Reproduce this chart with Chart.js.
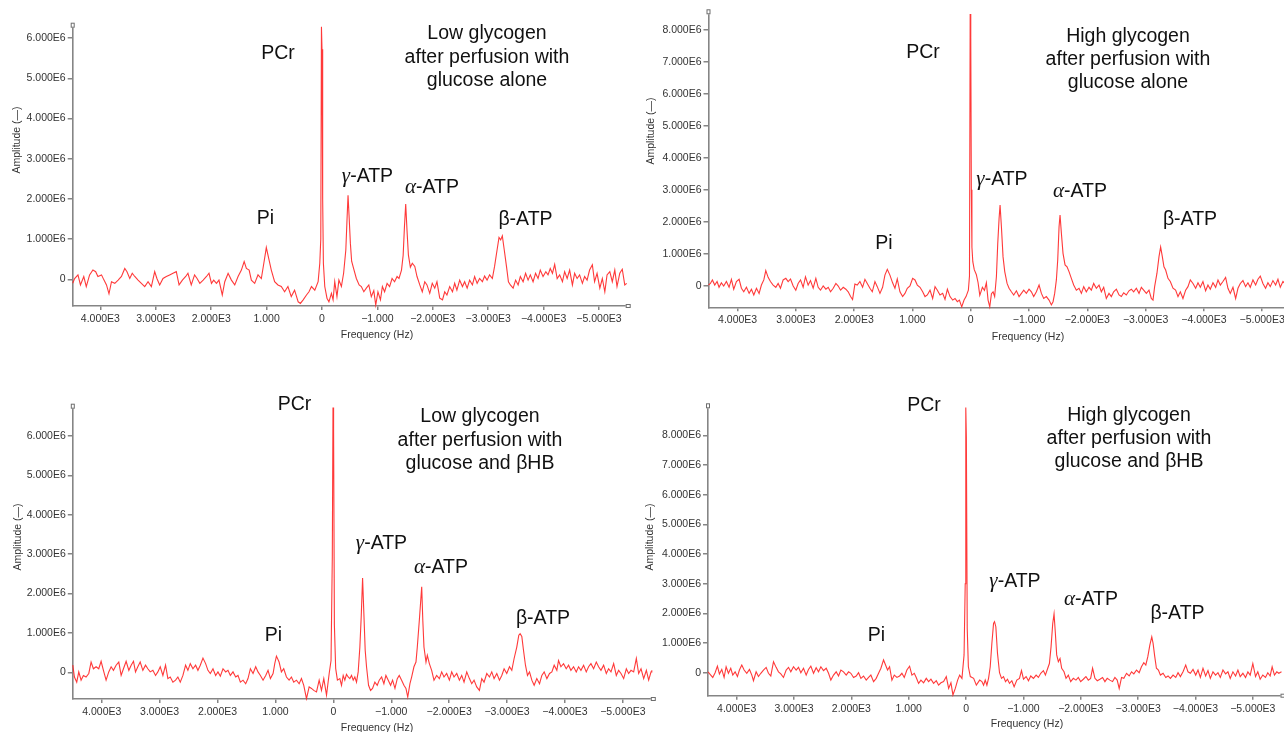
<!DOCTYPE html>
<html><head><meta charset="utf-8">
<script src="https://cdn.jsdelivr.net/npm/chart.js@4.4.0/dist/chart.umd.min.js"></script>
<style>
html,body{margin:0;padding:0;background:#fff;width:1284px;height:732px;overflow:hidden;}
#wrap{position:relative;width:1284px;height:732px;overflow:hidden;}
canvas{position:absolute;}
.lbl{position:absolute;font-family:"Liberation Sans",Arial,sans-serif;color:#111;font-size:19.5px;line-height:23.3px;white-space:nowrap;transform:translate(-50%,-50%);text-align:center;}
.blk{position:absolute;font-family:"Liberation Sans",Arial,sans-serif;color:#111;font-size:19.5px;line-height:23.3px;white-space:nowrap;transform:translate(-50%,0);text-align:center;}
.gk{font-family:"Liberation Serif","Times New Roman",serif;font-style:italic;font-size:21px;}
.ax{position:absolute;font-family:"Liberation Sans",Arial,sans-serif;font-size:10.5px;color:#333;white-space:nowrap;transform:translate(-50%,-50%);}
.axv{position:absolute;font-family:"Liberation Sans",Arial,sans-serif;font-size:10.5px;color:#333;white-space:nowrap;transform:translate(-50%,-50%) rotate(-90deg);}
</style></head><body><div id="wrap">
<canvas id="c1" width="640" height="345" style="left:0;top:0"></canvas>
<canvas id="c2" width="660" height="345" style="left:640px;top:0"></canvas>
<canvas id="c3" width="660" height="352" style="left:0;top:380px"></canvas>
<canvas id="c4" width="644" height="352" style="left:640px;top:380px"></canvas>

<div class="lbl" style="left:278px;top:53px">PCr</div>
<div class="lbl" style="left:367.5px;top:176px"><span class="gk">γ</span>-ATP</div>
<div class="lbl" style="left:432px;top:187px"><span class="gk">α</span>-ATP</div>
<div class="lbl" style="left:265.5px;top:218px">Pi</div>
<div class="lbl" style="left:525.5px;top:219px">β-ATP</div>
<div class="blk" style="left:487px;top:21.4px">Low glycogen<br>after perfusion with<br>glucose alone</div>
<div class="axv" style="left:16px;top:140px">Amplitude (—)</div>
<div class="ax" style="left:377px;top:334px">Frequency (Hz)</div>

<div class="lbl" style="left:923px;top:52px">PCr</div>
<div class="lbl" style="left:1002px;top:179px"><span class="gk">γ</span>-ATP</div>
<div class="lbl" style="left:1080px;top:191px"><span class="gk">α</span>-ATP</div>
<div class="lbl" style="left:884px;top:243px">Pi</div>
<div class="lbl" style="left:1190px;top:219px">β-ATP</div>
<div class="blk" style="left:1128px;top:23.9px">High glycogen<br>after perfusion with<br>glucose alone</div>
<div class="axv" style="left:650px;top:131px">Amplitude (—)</div>
<div class="ax" style="left:1028px;top:336px">Frequency (Hz)</div>

<div class="lbl" style="left:294.5px;top:404px">PCr</div>
<div class="lbl" style="left:381.5px;top:543px"><span class="gk">γ</span>-ATP</div>
<div class="lbl" style="left:441px;top:567px"><span class="gk">α</span>-ATP</div>
<div class="lbl" style="left:273.5px;top:635px">Pi</div>
<div class="lbl" style="left:543px;top:618px">β-ATP</div>
<div class="blk" style="left:480px;top:404.4px">Low glycogen<br>after perfusion with<br>glucose and βHB</div>
<div class="axv" style="left:17px;top:537px">Amplitude (—)</div>
<div class="ax" style="left:377px;top:727px">Frequency (Hz)</div>

<div class="lbl" style="left:924px;top:405px">PCr</div>
<div class="lbl" style="left:1015px;top:581px"><span class="gk">γ</span>-ATP</div>
<div class="lbl" style="left:1091px;top:598.5px"><span class="gk">α</span>-ATP</div>
<div class="lbl" style="left:876.5px;top:635px">Pi</div>
<div class="lbl" style="left:1177.5px;top:613px">β-ATP</div>
<div class="blk" style="left:1129px;top:402.9px">High glycogen<br>after perfusion with<br>glucose and βHB</div>
<div class="axv" style="left:649px;top:537px">Amplitude (—)</div>
<div class="ax" style="left:1027px;top:723px">Frequency (Hz)</div>
</div>
<script>
// Frequency axis ticks (Hz) and their labels
const xTickValues = [4000,3000,2000,1000,0,-1000,-2000,-3000,-4000,-5000];
const xTickLabels = ["4.000E3","3.000E3","2.000E3","1.000","0","\u22121.000","\u22122.000E3","\u22123.000E3","\u22124.000E3","\u22125.000E3"];
// Amplitude ticks (in units of 1E6)
const yTicks6 = [0,1,2,3,4,5,6];
const yLabels6 = ["0","1.000E6","2.000E6","3.000E6","4.000E6","5.000E6","6.000E6"];
const yTicks8 = [0,1,2,3,4,5,6,7,8];
const yLabels8 = ["0","1.000E6","2.000E6","3.000E6","4.000E6","5.000E6","6.000E6","7.000E6","8.000E6"];

// Panel 1: Low glycogen, glucose alone (amplitude x1E6)
const p1Freq = [
4500,4465,4405,4360,4300,4255,4195,4135,4085,4045,
3980,3935,3890,3845,3800,3740,3680,3620,3560,3520,
3470,3425,3380,3320,3260,3200,3140,3080,3020,2980,
2930,2870,2810,2750,2690,2630,2580,2520,2460,2420,
2360,2300,2255,2205,2145,2085,2040,1995,1955,1905,
1860,1800,1755,1695,1635,1575,1515,1455,1405,1365,
1315,1275,1215,1155,1095,1050,1005,955,915,855,
795,735,675,615,555,495,430,390,340,280,
235,190,130,70,40,22,10,0,-12,-25,
-50,-90,-125,-170,-200,-230,-270,-305,-350,-390,
-430,-452,-470,-488,-512,-535,-570,-620,-670,-710,
-755,-800,-845,-890,-935,-970,-1010,-1055,-1090,-1130,
-1175,-1220,-1265,-1310,-1355,-1390,-1435,-1465,-1488,-1511,
-1535,-1560,-1595,-1630,-1675,-1715,-1765,-1810,-1855,-1895,
-1945,-1990,-2035,-2075,-2125,-2175,-2215,-2255,-2305,-2355,
-2395,-2435,-2485,-2535,-2575,-2620,-2665,-2715,-2755,-2800,
-2845,-2895,-2935,-2980,-3025,-3075,-3115,-3160,-3195,-3225,
-3255,-3290,-3330,-3365,-3400,-3450,-3495,-3540,-3580,-3630,
-3675,-3720,-3760,-3810,-3855,-3900,-3940,-3990,-4040,-4080,
-4120,-4160,-4200,-4245,-4290,-4340,-4380,-4425,-4470,-4520,
-4560,-4605,-4650,-4700,-4740,-4785,-4830,-4880,-4920,-4965,
-5015,-5060,-5105,-5145,-5195,-5240,-5285,-5325,-5375,-5420,
-5465,-5500];
const p1Amp = [
-0.10,0.02,0.11,-0.14,0.07,-0.18,0.11,0.23,0.19,0.07,
0.11,-0.02,-0.14,-0.36,-0.06,-0.10,-0.02,0.07,0.27,0.19,
0.02,0.15,0.07,-0.02,-0.10,-0.18,-0.06,-0.18,0.19,0.02,
-0.14,0.02,0.07,0.11,0.15,0.19,-0.14,-0.02,0.07,0.15,
-0.14,0.11,0.02,-0.10,-0.02,0.07,0.15,-0.10,-0.02,-0.10,
-0.02,-0.39,-0.06,0.15,-0.02,-0.14,0.07,0.23,0.44,0.27,
0.23,-0.02,-0.10,0.11,0.02,0.40,0.79,0.48,0.23,-0.06,
-0.14,-0.18,-0.31,-0.18,-0.43,-0.27,-0.56,-0.60,-0.51,-0.39,
-0.31,-0.18,-0.27,-0.06,0.40,1.0,6.28,5.72,2.0,0.4,
-0.18,-0.47,-0.56,-0.35,-0.51,-0.06,-0.43,-0.02,-0.18,0.15,
0.73,1.5,2.09,1.6,0.9,0.45,0.27,0.02,-0.14,-0.18,
-0.31,-0.22,-0.14,-0.43,-0.28,-0.64,-0.31,-0.51,-0.18,-0.31,
-0.10,-0.18,0.02,-0.06,0.07,0.02,0.23,0.6,1.3,1.87,
1.2,0.6,0.3,0.40,0.32,0.07,-0.14,-0.31,-0.06,-0.14,
-0.35,-0.10,-0.22,-0.06,-0.47,-0.51,-0.31,-0.39,-0.18,-0.31,
-0.10,-0.27,-0.02,-0.18,-0.06,-0.22,-0.02,-0.14,0.07,-0.10,
0.02,-0.06,0.08,-0.02,0.11,0.02,0.32,0.73,1.04,0.98,
1.08,0.73,0.32,-0.06,-0.14,-0.22,-0.02,-0.14,0.07,-0.06,
0.15,-0.02,0.11,-0.06,0.15,0.02,0.23,0.07,0.19,0.11,
0.27,0.15,0.37,0.02,0.11,-0.06,0.19,0.02,0.23,-0.14,
0.15,0.02,0.11,-0.10,0.07,-0.02,0.23,0.36,-0.06,0.15,
-0.22,0.02,-0.31,0.11,0.19,-0.06,0.23,-0.18,0.15,0.25,
-0.14,-0.10];

// Panel 2: High glycogen, glucose alone
const p2Freq = [
4500,4468,4433,4393,4353,4319,4279,4239,4193,4147,
4107,4067,4021,3975,3935,3895,3849,3803,3763,3723,
3677,3632,3592,3551,3517,3477,3437,3391,3345,3305,
3265,3219,3173,3133,3093,3047,3002,2962,2921,2876,
2836,2790,2750,2704,2658,2618,2578,2532,2486,2446,
2406,2360,2314,2274,2234,2188,2143,2103,2062,2028,
1988,1948,1902,1856,1816,1776,1730,1690,1644,1604,
1558,1513,1473,1432,1387,1341,1301,1261,1215,1169,
1129,1089,1043,997,957,917,871,825,785,745,
699,654,613,573,528,482,442,401,356,310,
270,230,195,155,115,81,41,22,10,0,
-10,-20,-35,-60,-95,-125,-155,-200,-235,-268,
-297,-326,-355,-383,-410,-440,-463,-486,-503,-526,
-554,-583,-623,-657,-697,-737,-783,-829,-869,-909,
-954,-1000,-1040,-1080,-1126,-1172,-1212,-1252,-1297,-1343,
-1383,-1412,-1440,-1469,-1492,-1515,-1532,-1555,-1583,-1618,
-1652,-1686,-1726,-1766,-1812,-1858,-1898,-1938,-1983,-2029,
-2069,-2109,-2155,-2201,-2241,-2281,-2326,-2372,-2412,-2452,
-2498,-2544,-2584,-2624,-2669,-2715,-2755,-2795,-2841,-2887,
-2927,-2967,-3013,-3058,-3098,-3127,-3155,-3195,-3230,-3258,
-3287,-3315,-3344,-3384,-3424,-3470,-3515,-3556,-3596,-3641,
-3687,-3727,-3767,-3813,-3859,-3899,-3939,-3984,-4030,-4070,
-4110,-4156,-4202,-4242,-4282,-4327,-4373,-4413,-4453,-4499,
-4545,-4585,-4625,-4670,-4716,-4756,-4796,-4842,-4888,-4928,
-4968,-5013,-5059,-5099,-5139,-5185,-5231,-5271,-5311,-5357,
-5400,-5450,-5500];
const p2Amp = [
0.02,0.07,0.18,0.02,0.13,-0.05,0.09,-0.01,0.13,-0.05,
0.20,-0.11,0.13,0.20,-0.08,-0.19,-0.05,-0.24,-0.11,-0.29,
-0.08,-0.24,0.02,0.18,0.47,0.26,0.13,0.02,-0.05,0.07,
-0.08,0.18,0.23,0.13,0.21,-0.01,-0.14,0.07,0.18,-0.05,
0.28,0.02,0.16,-0.08,0.23,-0.05,-0.14,-0.01,-0.11,-0.05,
-0.19,-0.08,0.07,-0.01,-0.14,-0.05,-0.11,-0.19,-0.34,-0.43,
0.05,0.02,0.13,-0.05,0.20,0.07,-0.08,-0.19,0.13,-0.03,
-0.24,-0.05,0.33,0.51,0.33,0.09,-0.08,0.21,-0.19,-0.34,
-0.24,-0.08,-0.01,0.23,0.18,0.02,-0.05,-0.19,-0.34,-0.29,
-0.14,-0.40,-0.03,-0.14,-0.29,-0.24,-0.43,-0.11,-0.34,-0.45,
-0.40,-0.50,-0.45,-0.66,-0.45,-0.34,-0.14,0.3,8.49,7.76,
3.0,1.2,0.75,0.5,0.35,0.1,-0.3,-0.05,-0.15,0.09,
-0.45,-0.66,-0.25,-0.19,-0.34,0.28,1.32,2.1,2.52,1.84,
0.9,0.44,0.07,-0.08,-0.19,-0.29,-0.16,-0.34,-0.24,-0.14,
-0.24,-0.11,-0.19,-0.34,-0.19,0.02,-0.24,-0.40,-0.34,-0.45,
-0.60,-0.50,-0.24,0.18,0.8,1.84,2.21,1.64,1.01,0.65,
0.59,0.44,0.23,0.02,-0.14,-0.08,-0.24,-0.03,-0.19,-0.05,
-0.14,0.07,-0.08,0.02,-0.19,-0.05,-0.40,-0.24,-0.34,-0.19,
-0.11,-0.29,-0.34,-0.22,-0.29,-0.16,-0.11,-0.19,-0.08,-0.24,
-0.05,-0.14,-0.24,-0.14,-0.40,-0.45,-0.03,0.39,0.91,1.21,
0.91,0.59,0.49,0.23,0.13,-0.08,-0.14,-0.34,-0.19,-0.40,
-0.14,-0.03,0.18,0.07,-0.08,0.09,-0.05,0.13,-0.16,0.02,
-0.11,0.09,-0.05,0.18,0.02,0.13,0.26,-0.08,-0.24,-0.05,
-0.40,-0.08,0.07,0.16,-0.03,0.09,-0.05,0.18,0.02,0.20,
0.30,0.07,-0.08,0.09,-0.03,0.16,0.02,0.20,-0.05,0.13,
0.05,-0.10,0.08];

// Panel 3: Low glycogen, glucose and βHB
const p3Freq = [
4500,4472,4432,4397,4357,4317,4271,4224,4184,4144,
4098,4052,4011,3971,3925,3879,3838,3798,3752,3706,
3665,3625,3579,3532,3492,3452,3417,3377,3336,3290,
3244,3204,3163,3117,3071,3031,2990,2944,2898,2858,
2817,2771,2725,2685,2644,2598,2552,2512,2471,2425,
2379,2339,2298,2252,2206,2166,2125,2079,2033,1993,
1952,1906,1860,1820,1779,1733,1687,1647,1606,1560,
1514,1474,1433,1387,1341,1301,1260,1214,1168,1128,
1087,1041,1012,983,937,897,857,810,764,724,
684,637,591,551,511,464,418,378,338,291,
245,205,165,118,72,40,18,6,-4,-18,
-40,-70,-112,-141,-170,-198,-227,-256,-285,-314,
-343,-371,-400,-429,-458,-481,-505,-527,-550,-573,
-608,-643,-677,-717,-758,-793,-833,-873,-908,-948,
-989,-1023,-1064,-1104,-1138,-1179,-1219,-1254,-1285,-1323,
-1352,-1392,-1427,-1450,-1485,-1526,-1545,-1565,-1600,-1623,
-1658,-1698,-1738,-1784,-1831,-1871,-1911,-1957,-2004,-2044,
-2084,-2131,-2177,-2217,-2257,-2304,-2350,-2390,-2430,-2476,
-2523,-2563,-2603,-2650,-2696,-2736,-2776,-2823,-2869,-2909,
-2949,-2995,-3042,-3082,-3122,-3168,-3203,-3226,-3255,-3284,
-3318,-3353,-3388,-3428,-3468,-3514,-3561,-3601,-3641,-3688,
-3734,-3774,-3814,-3860,-3889,-3930,-3976,-4022,-4062,-4103,
-4149,-4195,-4235,-4276,-4322,-4368,-4408,-4449,-4495,-4541,
-4581,-4622,-4668,-4714,-4754,-4795,-4841,-4887,-4927,-4968,
-5014,-5060,-5100,-5141,-5187,-5233,-5273,-5314,-5360,-5406,
-5446,-5487,-5500];
const p3Amp = [
0.18,-0.12,-0.25,0.01,-0.20,-0.08,-0.12,-0.03,0.26,0.09,
0.14,0.09,0.28,0.05,-0.20,0.01,0.14,0.05,0.18,0.26,
-0.08,0.09,0.28,0.05,0.18,0.28,0.01,0.14,0.26,0.05,
0.18,0.09,0.01,0.05,-0.08,0.01,0.14,-0.08,0.18,-0.16,
-0.12,-0.25,-0.20,-0.12,-0.25,-0.08,0.18,0.05,0.22,0.09,
0.18,0.05,0.18,0.36,0.22,0.05,-0.03,0.09,-0.08,0.01,
-0.10,0.09,0.01,0.05,-0.08,0.01,-0.12,-0.08,-0.25,-0.20,
-0.29,-0.16,0.09,-0.03,0.14,0.01,-0.08,-0.20,-0.08,0.05,
-0.16,-0.03,0.22,0.41,0.26,0.01,0.09,-0.12,-0.20,-0.12,
-0.25,-0.20,-0.29,-0.16,-0.33,-0.67,-0.37,-0.41,-0.46,-0.50,
-0.20,-0.46,-0.16,-0.58,-0.03,0.3,2.93,6.72,6.19,1.2,
0.1,-0.2,-0.16,-0.33,-0.08,-0.20,-0.05,-0.12,-0.16,-0.08,
-0.20,-0.12,-0.25,0.01,0.64,1.40,2.39,1.49,0.56,0.14,
-0.33,-0.46,-0.41,-0.25,-0.33,-0.20,-0.12,-0.29,-0.08,-0.20,
-0.33,-0.20,-0.41,-0.16,-0.08,-0.20,-0.33,-0.41,-0.63,-0.29,
-0.12,0.14,0.26,0.64,1.32,2.17,1.32,0.64,0.26,0.43,
0.22,0.05,-0.20,-0.08,-0.16,0.01,-0.12,-0.03,-0.20,0.01,
-0.12,-0.03,-0.20,-0.08,-0.25,0.01,-0.16,-0.29,-0.20,-0.37,
-0.46,-0.16,-0.25,-0.03,-0.12,0.01,-0.16,-0.03,-0.20,-0.08,
0.09,-0.03,0.14,0.05,0.35,0.64,0.94,0.98,0.91,0.56,
0.18,-0.08,0.01,-0.20,-0.33,-0.16,-0.29,-0.08,0.01,-0.16,
-0.03,0.01,0.18,0.05,0.30,0.14,0.22,0.09,0.18,0.05,
0.14,0.01,0.14,0.05,0.18,0.01,0.14,0.22,0.09,0.26,
0.14,0.05,0.18,-0.03,0.09,0.01,0.22,-0.08,0.05,-0.03,
-0.16,0.09,-0.03,0.05,0.01,0.35,-0.03,0.09,-0.16,0.05,
-0.20,0.01,0.05];

// Panel 4: High glycogen, glucose and βHB
const p4Freq = [
4500,4452,4417,4376,4336,4301,4260,4219,4184,4144,
4103,4068,4027,3987,3952,3911,3870,3824,3777,3736,
3707,3661,3620,3579,3533,3486,3446,3405,3358,3312,
3271,3230,3184,3137,3096,3056,3009,2963,2922,2881,
2835,2788,2748,2707,2660,2614,2573,2532,2486,2439,
2398,2358,2311,2265,2224,2183,2137,2090,2049,2009,
1962,1916,1875,1834,1788,1741,1700,1660,1613,1567,
1526,1485,1439,1404,1369,1334,1293,1252,1206,1159,
1119,1078,1032,985,944,903,869,828,787,741,
694,653,613,566,520,479,438,392,345,304,
264,229,188,147,112,72,35,15,5,-5,
-20,-40,-74,-132,-179,-237,-276,-305,-334,-363,
-392,-421,-450,-479,-496,-519,-548,-583,-618,-653,
-688,-722,-757,-798,-838,-885,-931,-966,-1001,-1047,
-1088,-1128,-1175,-1221,-1261,-1302,-1348,-1383,-1424,-1453,
-1482,-1511,-1534,-1557,-1580,-1609,-1638,-1667,-1708,-1743,
-1783,-1824,-1870,-1916,-1957,-1998,-2044,-2090,-2131,-2172,
-2206,-2247,-2288,-2334,-2380,-2421,-2461,-2508,-2554,-2595,
-2635,-2670,-2711,-2751,-2798,-2844,-2885,-2925,-2972,-3018,
-3058,-3099,-3134,-3169,-3204,-3238,-3261,-3290,-3319,-3354,
-3389,-3435,-3482,-3522,-3563,-3609,-3656,-3696,-3737,-3783,
-3830,-3870,-3911,-3957,-4004,-4044,-4085,-4131,-4177,-4218,
-4259,-4305,-4351,-4392,-4433,-4479,-4525,-4566,-4606,-4653,
-4699,-4740,-4780,-4827,-4873,-4914,-4954,-5000,-5047,-5087,
-5128,-5174,-5221,-5261,-5302,-5337,-5377,-5418,-5453,-5500];
const p4Amp = [
0.03,-0.08,-0.16,0.00,0.22,-0.04,0.11,-0.16,0.20,-0.02,
0.15,-0.08,0.03,-0.13,0.09,0.26,0.09,-0.02,0.11,-0.08,
-0.27,0.03,-0.13,-0.02,0.09,0.18,-0.02,-0.11,0.37,0.18,
0.03,-0.04,-0.16,0.09,0.18,0.03,0.20,0.09,0.18,0.00,
0.15,-0.08,0.11,0.22,-0.02,0.17,0.03,0.20,0.07,0.15,
-0.02,-0.25,-0.08,0.03,-0.11,0.09,0.03,-0.08,0.03,-0.02,
-0.16,-0.11,0.00,-0.19,-0.11,-0.25,-0.16,-0.08,-0.30,-0.19,
-0.02,0.15,0.43,0.26,0.09,0.20,-0.25,-0.08,-0.16,-0.11,
-0.02,-0.16,0.09,0.22,-0.08,-0.02,-0.16,-0.36,-0.25,-0.34,
-0.19,-0.30,-0.22,-0.36,-0.27,-0.42,-0.34,-0.30,-0.13,-0.53,
-0.34,-0.75,-0.53,-0.25,-0.08,-0.19,0.6,3.0,8.94,7.95,
1.5,0.2,-0.13,-0.19,-0.42,-0.25,-0.30,-0.42,-0.25,-0.42,
-0.19,0.20,0.99,1.66,1.72,1.55,0.65,0.00,-0.19,-0.13,
-0.30,-0.22,-0.36,-0.27,-0.47,-0.25,-0.19,0.07,-0.22,-0.13,
-0.27,-0.11,-0.19,-0.08,-0.16,-0.02,0.07,-0.08,0.15,0.31,
0.88,1.66,1.98,1.33,0.6,0.37,0.48,0.15,0.03,-0.19,
-0.08,-0.30,-0.19,-0.25,-0.16,-0.30,-0.22,-0.13,-0.25,-0.19,
0.15,-0.19,-0.27,-0.22,-0.16,-0.30,-0.19,-0.25,-0.30,-0.16,
-0.25,-0.53,-0.16,-0.19,-0.02,-0.11,0.03,-0.04,0.09,0.00,
0.20,0.34,0.26,0.54,0.93,1.21,0.99,0.54,0.15,0.09,
-0.08,-0.02,-0.16,-0.11,-0.19,-0.08,-0.16,0.00,-0.13,0.03,
0.26,0.03,-0.02,0.11,-0.08,0.09,-0.16,0.15,-0.11,0.07,
-0.19,0.03,-0.08,0.00,-0.16,0.09,-0.04,0.03,-0.19,0.03,
-0.11,0.09,-0.13,-0.02,-0.16,0.03,-0.08,0.31,-0.13,0.03,
-0.22,-0.08,-0.16,0.00,-0.11,0.20,-0.08,0.03,-0.02,0.03];

const FONT = '"Liberation Sans", Arial, sans-serif';
const AXIS_GREY = '#858585';

const axisEnds = {
  id: 'axisEnds',
  afterDraw(chart) {
    const ctx = chart.ctx, a = chart.chartArea;
    ctx.save();
    ctx.strokeStyle = '#6e6e6e';
    ctx.fillStyle = '#fff';
    ctx.lineWidth = 1;
    ctx.fillRect(a.left - 2, a.top - 4, 4, 5);
    ctx.strokeRect(a.left - 1.5, a.top - 3.5, 3, 4);
    ctx.fillRect(a.right - 1, a.bottom - 2, 5, 4);
    ctx.strokeRect(a.right - 0.5, a.bottom - 1.5, 4, 3);
    ctx.restore();
  }
};

function buildPanel(id, freq, amp, yMin, yMax, yVals, yLabs, box) {
  const pts = freq.map((f, i) => ({ x: f, y: amp[i] }));
  new Chart(document.getElementById(id), {
    type: 'line',
    data: { datasets: [{ data: pts, borderColor: 'rgba(255,40,40,0.92)', borderWidth: 1.1,
      pointRadius: 0, tension: 0, clip: false, fill: false }] },
    options: {
      responsive: false, animation: false, devicePixelRatio: 1,
      layout: { autoPadding: false, padding: { left: 0, top: box.top, right: box.right, bottom: 0 } },
      plugins: { legend: { display: false }, tooltip: { enabled: false } },
      scales: {
        x: {
          type: 'linear', reverse: true, min: -5500, max: 4500,
          afterBuildTicks: s => { s.ticks = xTickValues.map(v => ({ value: v })); },
          afterFit: s => { s.height = box.xh; },
          ticks: { autoSkip: false, maxRotation: 0, minRotation: 0, padding: 3, color: '#333',
            font: { family: FONT, size: 10.5 },
            callback: v => xTickLabels[xTickValues.indexOf(v)] },
          grid: { drawOnChartArea: false, drawTicks: true, tickLength: 4, color: AXIS_GREY, lineWidth: 1.5 },
          border: { display: true, color: AXIS_GREY, width: 1.6 }
        },
        y: {
          type: 'linear', min: yMin, max: yMax,
          afterBuildTicks: s => { s.ticks = yVals.map(v => ({ value: v })); },
          afterFit: s => { s.width = box.yw; },
          ticks: { autoSkip: false, padding: 2, color: '#333', font: { family: FONT, size: 10.5 },
            callback: v => yLabs[yVals.indexOf(v)] },
          grid: { drawOnChartArea: false, drawTicks: true, tickLength: 5, color: AXIS_GREY, lineWidth: 1.5 },
          border: { display: true, color: AXIS_GREY, width: 1.6 }
        }
      }
    },
    plugins: [axisEnds]
  });
}

buildPanel('c1', p1Freq, p1Amp, -0.664, 6.284, yTicks6, yLabels6, { top: 26.7, right: 13.3, yw: 72.7, xh: 39 });
buildPanel('c2', p2Freq, p2Amp, -0.675, 8.51, yTicks8, yLabels8, { top: 13.3, right: 8.7, yw: 68.5, xh: 37.7 });
buildPanel('c3', p3Freq, p3Amp, -0.678, 6.716, yTicks6, yLabels6, { top: 27.7, right: 8.2, yw: 72.8, xh: 33 });
buildPanel('c4', p4Freq, p4Amp, -0.775, 8.945, yTicks8, yLabels8, { top: 27.3, right: 2.5, yw: 68, xh: 36.3 });
</script>
</body></html>
